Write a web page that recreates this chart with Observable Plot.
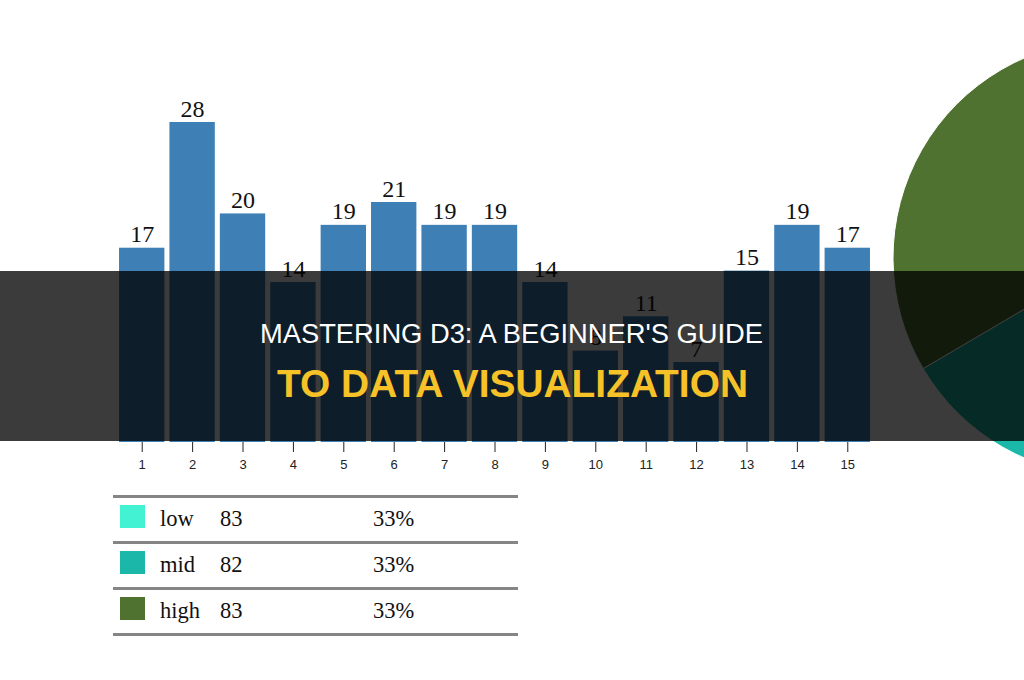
<!DOCTYPE html>
<html>
<head>
<meta charset="utf-8">
<script src="https://cdn.jsdelivr.net/npm/d3@7"></script>
<script src="https://cdn.jsdelivr.net/npm/@observablehq/plot@0.6"></script>
<style>
  html, body { margin: 0; padding: 0; background: #fff; }
  #wrap { position: relative; width: 1024px; height: 680px; overflow: hidden; background: #fff; }
  #pie, #chart, #legend, #overlay { position: absolute; left: 0; top: 0; }
  #legend { font-family: "Liberation Serif", "Times New Roman", serif; font-size: 22.5px; color: #111; }
  .rule { position: absolute; left: 113px; width: 405px; height: 3px; background: #858585; }
  .sw { position: absolute; left: 120px; width: 25px; height: 23px; }
  .cell { position: absolute; line-height: 1; }
  #overlay { top: 271px; width: 1024px; height: 170px; background: rgba(0,0,0,0.77); }
</style>
</head>
<body>
<div id="wrap">
  <svg id="pie" width="1024" height="680"></svg>
  <div id="chart"></div>
  <div id="legend"></div>
  <div id="overlay">
    <svg width="1024" height="170">
      <text x="260" y="72" textLength="503" lengthAdjust="spacingAndGlyphs"
            font-family="Liberation Sans, Arial, sans-serif" font-size="27" fill="#ffffff">MASTERING D3: A BEGINNER'S GUIDE</text>
      <text x="277" y="126" textLength="471" lengthAdjust="spacingAndGlyphs"
            font-family="Liberation Sans, Arial, sans-serif" font-size="39" font-weight="bold" fill="#f6c227">TO DATA VISUALIZATION</text>
    </svg>
  </div>
</div>
<script>
// ---- data ----
const barLabels = ["1","2","3","4","5","6","7","8","9","10","11","12","13","14","15"];
const barValues = [17, 28, 20, 14, 19, 21, 19, 19, 14, 8, 11, 7, 15, 19, 17];
const groupNames = ["low", "mid", "high"];
const groupTotals = [83, 82, 83];
const groupColors = ["#43f2d3", "#1bb8a9", "#4f7230"];

// ---- bar chart ----
const bars = barLabels.map((l, i) => ({label: l, value: barValues[i]}));
const chart = Plot.plot({
  width: 1024,
  height: 480,
  marginLeft: 114,
  marginRight: 149,
  marginTop: 122,
  marginBottom: 38,
  style: {background: "transparent", fontSize: "13px", fontFamily: "Liberation Sans, Arial, sans-serif", color: "#222", overflow: "visible"},
  x: {domain: barLabels, padding: 0.1, round: false, label: null, tickSize: 10, tickPadding: 7},
  y: {domain: [0, 28], axis: null},
  marks: [
    Plot.barY(bars, {x: "label", y: "value", fill: "#3e7fb6"}),
    Plot.text(bars, {x: "label", y: "value", text: d => String(d.value), dy: -6, lineAnchor: "bottom",
      fontSize: 24, fontFamily: "Liberation Serif, Times New Roman, serif", fill: "#111"})
  ]
});
document.getElementById("chart").appendChild(chart);

// ---- pie ----
const total = d3.sum(groupTotals);
const pieData = groupNames.map((n, i) => ({name: n, value: groupTotals[i], color: groupColors[i]}));
const arcs = d3.pie().sort(null).value(d => d.value)(pieData);
const arcGen = d3.arc().innerRadius(0).outerRadius(218);
d3.select("#pie").append("g")
  .attr("transform", "translate(1111,258)")
  .selectAll("path").data(arcs).join("path")
  .attr("d", arcGen)
  .attr("fill", d => d.data.color)
  .attr("stroke", "#fff")
  .attr("stroke-width", 1);

// ---- legend table ----
const legend = document.getElementById("legend");
const rowTop = 496, rowH = 46;
for (let i = 0; i <= groupNames.length; i++) {
  const r = document.createElement("div");
  r.className = "rule";
  r.style.top = (rowTop + i * rowH - 1.5) + "px";
  legend.appendChild(r);
}
groupNames.forEach((n, i) => {
  const y = rowTop + i * rowH;
  const sw = document.createElement("div");
  sw.className = "sw";
  sw.style.top = (y + 9) + "px";
  sw.style.background = groupColors[i];
  legend.appendChild(sw);
  const cells = [[n, 160], [String(groupTotals[i]), 220], [d3.format(".0%")(groupTotals[i] / total), 373]];
  cells.forEach(([t, x]) => {
    const c = document.createElement("div");
    c.className = "cell";
    c.textContent = t;
    c.style.left = x + "px";
    c.style.top = (y + 12) + "px";
    legend.appendChild(c);
  });
});
</script>
</body>
</html>
